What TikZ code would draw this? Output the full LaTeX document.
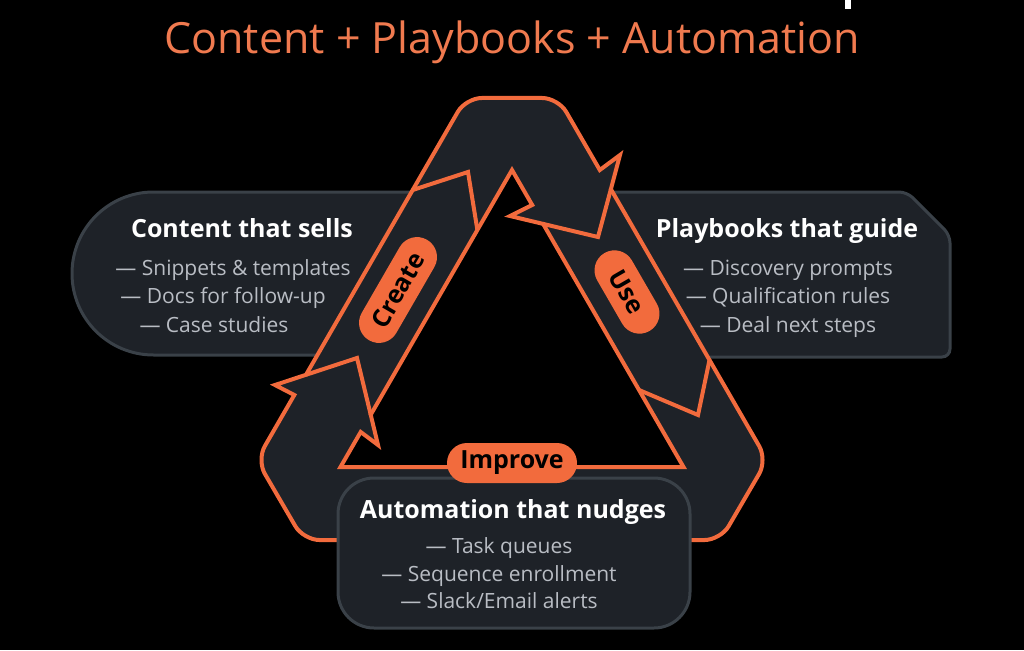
\documentclass[tikz,border=0pt]{standalone}
\usepackage{fontspec}
\setmainfont{Open Sans}
\usepackage{tikz}
\usetikzlibrary{positioning}
\usetikzlibrary{calc}
\definecolor{morange}{rgb}{0.95, 0.42, 0.24}
\definecolor{mtitle}{rgb}{0.94, 0.48, 0.31}
\definecolor{mpanel}{rgb}{0.118, 0.133, 0.157}
\definecolor{medge}{rgb}{0.227, 0.255, 0.282}
\definecolor{mgrey}{rgb}{0.725, 0.741, 0.769}
\tikzset{panel/.style = {fill=mpanel, draw=medge, line width=3pt},
         band/.style = {draw=morange, line width=4pt, line join=miter},
         pill/.style = {fill=morange, rounded corners=20pt, minimum height=40pt,
                        inner xsep=12pt, text=black,
                        font=\bfseries\fontsize{25}{25}\selectfont},
         boxtitle/.style = {text=white, anchor=base,
                            font=\bfseries\fontsize{25}{30}\selectfont},
         listline/.style = {text=mgrey, anchor=base,
                            font=\fontsize{21}{25}\selectfont}}

\begin{document}
\begin{tikzpicture}[x=1pt, y=-1pt]
    \useasboundingbox (0, 0) rectangle (1024, 650);
    \fill [black] (0, 0) rectangle (1024, 650);
    \fill [white] (845, 0) rectangle (851, 9);

    \node [text=mtitle, anchor=base, font=\fontsize{43}{50}\selectfont] (title) at (512, 54) {Content + Playbooks + Automation};

    % boxes behind the loop
    \filldraw [panel] (455, 192) -- (153.5, 192) arc [start angle=270, end angle=90, radius=81.5] -- (360, 355) -- cycle;
    \filldraw [panel, rounded corners=8pt] (565, 192) -- (907, 192) -- (950, 235) -- (950, 357) -- (664, 357) -- cycle;

    % outer and inner corners of the loop
    \coordinate (oT1) at (465.8, 98);
    \coordinate (oT2) at (558.2, 98);
    \coordinate (oR1) at (767.2, 460);
    \coordinate (oR2) at (720.6, 540);
    \coordinate (oL2) at (303.4, 540);
    \coordinate (oL1) at (256.8, 460);
    \coordinate (iA) at (512, 170);
    \coordinate (iR) at (683.5, 467);
    \coordinate (iL) at (340.5, 467);
    % head into Use
    \coordinate (uhNo) at (599.8, 170);
    \coordinate (uhBo) at (620, 155);
    \coordinate (uhT) at (598, 237);
    \coordinate (uhBi) at (510, 216);
    \coordinate (uhNi) at (532.2, 205);
    \coordinate (uhCo) at (intersection of uhBo--uhT and oT2--oR1);
    \coordinate (uhCi) at (intersection of uhBi--uhT and iA--iR);
    % head into Create
    \coordinate (ihNo) at (294.3, 395);
    \coordinate (ihBo) at (275, 385);
    \coordinate (ihT) at (357, 358);
    \coordinate (ihBi) at (378, 445);
    \coordinate (ihNi) at (360.7, 432);
    \coordinate (ihCo) at (intersection of ihBo--ihT and oL1--oT1);
    \coordinate (ihCi) at (intersection of ihBi--ihT and iL--iA);
    % pointed ends
    \coordinate (ctO) at (412.7, 190);
    \coordinate (ctT) at (468, 172);
    \coordinate (ctI) at (477.4, 230);
    \coordinate (utI) at (639, 390);
    \coordinate (utT) at (698, 415);
    \coordinate (utO) at (709.5, 360);
    \coordinate (m1) at ($(uhCo)!0.5!(oR1)$);
    \coordinate (m2) at ($(oL1)!0.5!(ihNo)$);
    \coordinate (m3) at ($(ihCo)!0.5!(oT1)$);
    \coordinate (m4) at ($(oT2)!0.5!(uhNo)$);

    \filldraw [band, fill=mpanel, even odd rule]
      (uhBo) -- (uhCo) -- (m1) [rounded corners=16pt] -- (oR1) -- (oR2) -- (oL2) -- (oL1) -- (m2)
      [sharp corners] -- (ihNo) -- (ihBo) -- (ihCo) -- (m3) [rounded corners=16pt] -- (oT1) -- (oT2) -- (m4)
      [sharp corners] -- (uhNo) -- cycle
      (iA) -- (uhNi) -- (uhBi) -- (uhCi) -- (iR) -- (iL) -- (ihNi) -- (ihBi) -- (ihCi) -- cycle;
    \draw [band] (ctO) -- (ctT) -- (ctI);
    \draw [band] (uhCo) -- (uhT) -- (uhCi);
    \draw [band] (utI) -- (utT) -- (utO);
    \draw [band] (ihCo) -- (ihT) -- (ihCi);

    \node [pill, rotate=60, minimum width=116pt] (create) at (398, 290) {Create};
    \node [pill, rotate=-60, minimum width=90pt] (use) at (627, 292) {Use};

    % box in front of the loop
    \filldraw [panel, rounded corners=36pt] (338, 478) rectangle (690, 628);
    \node [pill, minimum width=130pt] (improve) at (512, 463) {Improve};

    \node [boxtitle] (content) at (242, 237) {Content that sells};
    \foreach \i/\x/\y/\t in {1/233/275/{— Snippets \& templates}, 2/223/303/{— Docs for follow-up}, 3/214/332/{— Case studies}} {
      \node [listline] (content-\i) at (\x, \y) {\t};
    }
    \node [boxtitle] (playbooks) at (787, 237) {Playbooks that guide};
    \foreach \i/\y/\t in {1/275/{— Discovery prompts}, 2/303/{— Qualification rules}, 3/332/{— Deal next steps}} {
      \node [listline] (playbooks-\i) at (788, \y) {\t};
    }
    \node [boxtitle] (automation) at (513, 518) {Automation that nudges};
    \foreach \i/\y/\t in {1/553/{— Task queues}, 2/581/{— Sequence enrollment}, 3/608/{— Slack/Email alerts}} {
      \node [listline] (automation-\i) at (499, \y) {\t};
    }
\end{tikzpicture}
\end{document}
